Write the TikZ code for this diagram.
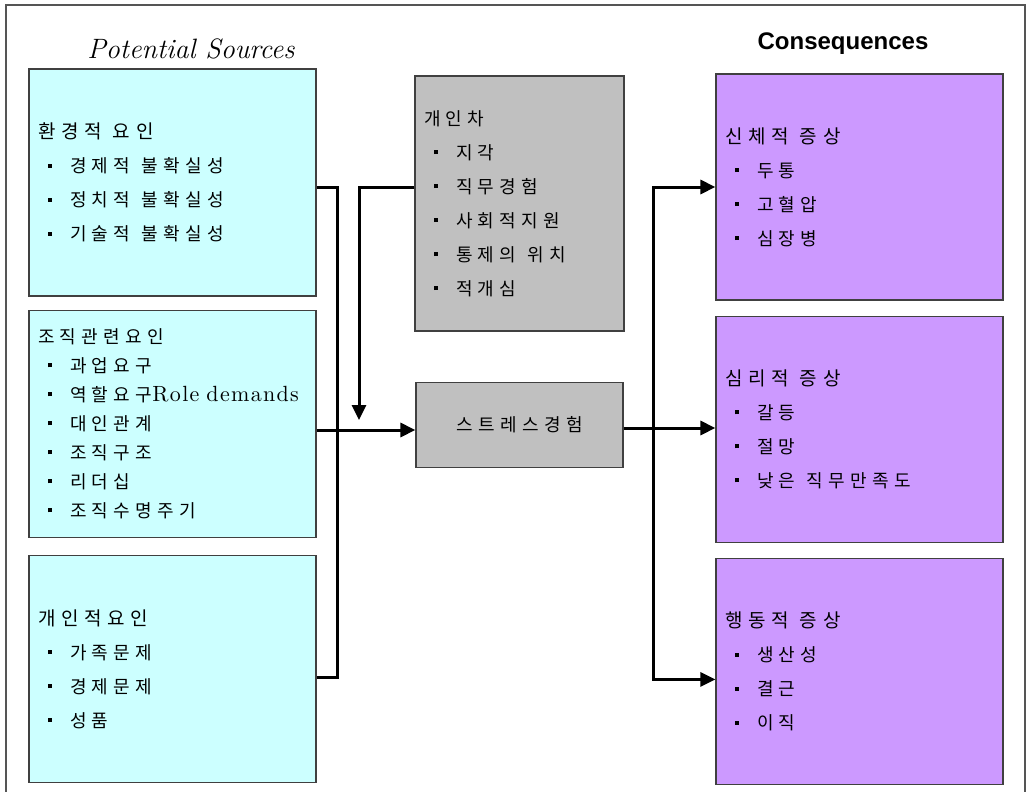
\documentclass[tikz,border=0pt]{standalone}
\usepackage{fontspec}
\usepackage{tikz}
\usetikzlibrary{arrows.meta,positioning}
\newfontfamily\kr[LetterSpace=30]{Noto Sans CJK KR}
\newfontfamily\latsp[LetterSpace=6]{lmroman10-regular.otf}
\newfontfamily\arialfont{Liberation Sans}
\definecolor{srccyan}{HTML}{CCFFFF}
\definecolor{diffgray}{HTML}{C0C0C0}
\definecolor{conpurple}{HTML}{CC99FF}
\definecolor{framegray}{HTML}{555555}
\newcommand{\itm}[1]{\hspace*{10pt}\makebox[22pt][l]{\raisebox{5pt}{\rule{4pt}{4pt}}}#1}
\newcommand{\hd}[1]{{\fontsize{19}{34}\selectfont #1}}
\newcommand{\kws}{\hspace{11pt}}

\begin{document}
\begin{tikzpicture}[x=1pt,y=-1pt,
  box/.style={draw=black!75,line width=1.2pt,text width=#1-18pt,
              inner xsep=9pt,inner ysep=0pt,align=left,
              font=\kr\fontsize{18}{34}\selectfont},
  source/.style={box=287pt,fill=srccyan,minimum height=227pt},
  indiv/.style={box=209pt,fill=diffgray,minimum height=255pt},
  stressbox/.style={box=207pt,fill=diffgray,minimum height=85pt,align=center},
  result/.style={box=287pt,fill=conpurple,minimum height=226pt},
  link/.style={line width=3pt,draw=black},
  arrow/.style={link,-{Triangle[length=15pt,width=14pt]}}]
\useasboundingbox (0,0) rectangle (1026,792);
\draw[framegray,line width=1.5pt] (6,792) -- (6,5) -- (1025,5) -- (1025,792);
\node[font=\itshape\fontsize{28}{32}\selectfont] (srctitle) at (191,49) {Potential Sources};
\node[font=\arialfont\bfseries\fontsize{24}{28}\selectfont] (contitle) at (843,44) {Consequences};
\node[source] (src1) at (172.5,182.5) {\hd{환경적\kws 요인}\\
  \itm{경제적\kws 불확실성}\\ \itm{정치적\kws 불확실성}\\ \itm{기술적\kws 불확실성}};
\node[source,below=13pt of src1,font=\kr\fontsize{18}{29}\selectfont] (src2) {조직관련요인\\
  \itm{과업요구}\\
  \itm{역할요구\mbox{\latsp\fontsize{22}{29}\selectfont Role\hspace{7pt}demands}}\\
  \itm{대인관계}\\ \itm{조직구조}\\ \itm{리더십}\\ \itm{조직수명주기}};
\node[source,below=17pt of src2] (src3) {\hd{개인적요인}\\
  \itm{가족문제}\\ \itm{경제문제}\\ \itm{성품}};
\node[indiv] (diff) at (519.5,203.5) {개인차\\
  \itm{지각}\\ \itm{직무경험}\\ \itm{사회적지원}\\ \itm{통제의\kws 위치}\\ \itm{적개심}};
\node[stressbox,below=50pt of diff] (stress) {스트레스경험};
\node[result] (con1) at (859.5,187) {\hd{신체적\kws 증상}\\
  \itm{두통}\\ \itm{고혈압}\\ \itm{심장병}};
\node[result,below=15pt of con1] (con2) {\hd{심리적\kws 증상}\\
  \itm{갈등}\\ \itm{절망}\\ \itm{낮은\kws 직무만족도}};
\node[result,below=15pt of con2] (con3) {\hd{행동적\kws 증상}\\
  \itm{생산성}\\ \itm{결근}\\ \itm{이직}};
\coordinate (jl) at (337,430);
\coordinate (jr) at (653,428);
\coordinate (dk) at (359,420);
\draw[link] ([yshift=-4.5pt]src1.east) -| (jl);
\draw[link] ([yshift=-8.5pt]src3.east) -| (jl);
\draw[arrow] (src2.east |- jl) -- (stress.west |- jl);
\draw[arrow] ([yshift=16.5pt]diff.west) -| (dk);
\draw[arrow] (stress.east |- jr) -- (con2.west |- jr);
\draw[arrow] (jr) |- (con1.west);
\draw[arrow] (jr) |- ([yshift=-8pt]con3.west);
\end{tikzpicture}
\end{document}
